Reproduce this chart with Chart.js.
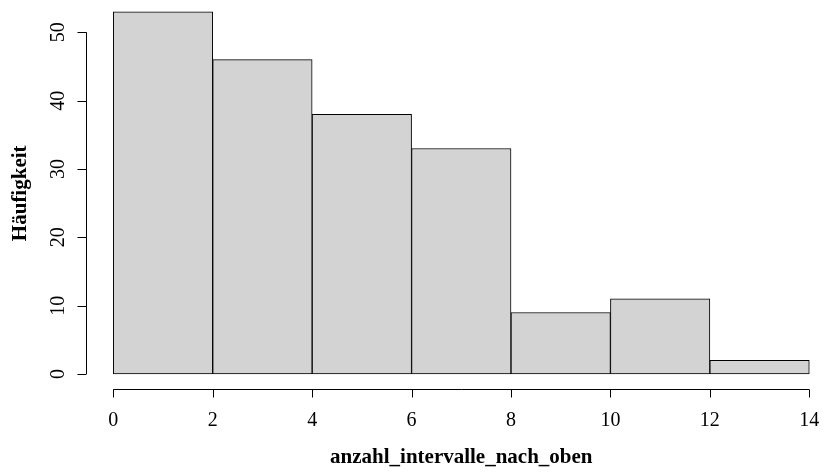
<!DOCTYPE html>
<html><head><meta charset="utf-8">
<script src="https://cdn.jsdelivr.net/npm/chart.js@4/dist/chart.umd.min.js"></script>
<style>html,body{margin:0;padding:0;background:#fff}#wrap{width:826px;height:473px;position:relative}</style>
</head><body><div id="wrap"><canvas id="c" width="826" height="473"></canvas></div>
<script>
const binEdges = [0, 2, 4, 6, 8, 10, 12, 14];
const counts = [53, 46, 38, 33, 9, 11, 2];
const xTicks = [0, 2, 4, 6, 8, 10, 12, 14];
const yTicks = [0, 10, 20, 30, 40, 50];
const xTitle = 'anzahl_intervalle_nach_oben';
const yTitle = 'Häufigkeit';

const points = counts.map((c, i) => ({ x: (binEdges[i] + binEdges[i + 1]) / 2, y: c }));

const FONT = '"Liberation Serif", "Times New Roman", serif';

const rAxes = {
  id: 'rAxes',
  afterDraw(chart) {
    const ctx = chart.ctx, xs = chart.scales.x, ys = chart.scales.y, ca = chart.chartArea;
    ctx.save();
    ctx.strokeStyle = '#000';
    ctx.fillStyle = '#000';
    ctx.lineWidth = 1;
    // x axis
    const yAx = Math.round(ca.bottom) - 0.5;
    const x0 = xs.getPixelForValue(xTicks[0]);
    const x1 = xs.getPixelForValue(xTicks[xTicks.length - 1]);
    ctx.beginPath();
    ctx.moveTo(x0, yAx); ctx.lineTo(x1, yAx);
    xTicks.forEach(v => {
      const px = Math.round(xs.getPixelForValue(v)) + 0.5;
      ctx.moveTo(px, yAx); ctx.lineTo(px, yAx + 8);
    });
    // y axis
    const xAx = Math.round(ca.left) + 0.5;
    const yb = ys.getPixelForValue(yTicks[0]);
    const yt = ys.getPixelForValue(yTicks[yTicks.length - 1]);
    ctx.moveTo(xAx, yb); ctx.lineTo(xAx, yt);
    yTicks.forEach(v => {
      const py = Math.round(ys.getPixelForValue(v)) + 0.5;
      ctx.moveTo(xAx, py); ctx.lineTo(xAx - 9, py);
    });
    ctx.stroke();

    // tick labels
    ctx.font = '20px ' + FONT;
    ctx.textAlign = 'center';
    ctx.textBaseline = 'alphabetic';
    xTicks.forEach(v => {
      ctx.fillText(String(v), xs.getPixelForValue(v), 425.5);
    });
    yTicks.forEach(v => {
      ctx.save();
      ctx.translate(63.5, ys.getPixelForValue(v));
      ctx.rotate(-Math.PI / 2);
      ctx.fillText(String(v), 0, 0);
      ctx.restore();
    });

    // titles
    ctx.font = 'bold 21px ' + FONT;
    ctx.fillText(xTitle, (x0 + x1) / 2, 463);
    ctx.save();
    ctx.translate(26, 193.3);
    ctx.rotate(-Math.PI / 2);
    ctx.fillText(yTitle, 0, 0);
    ctx.restore();
    ctx.restore();
  }
};

new Chart(document.getElementById('c'), {
  type: 'bar',
  data: {
    datasets: [{
      data: points,
      backgroundColor: '#d3d3d3',
      borderColor: '#000',
      borderWidth: 1,
      borderSkipped: false,
      barPercentage: 1,
      categoryPercentage: 1
    }]
  },
  options: {
    responsive: false,
    devicePixelRatio: 1,
    animation: false,
    layout: { padding: { left: 86, right: 0, top: 0, bottom: 83 } },
    plugins: { legend: { display: false }, tooltip: { enabled: false } },
    scales: {
      x: { type: 'linear', min: -0.549, max: 14.336, offset: false, display: false },
      y: { type: 'linear', min: -2.341, max: 54.73, display: false }
    }
  },
  plugins: [rAxes]
});
</script>
</body></html>
